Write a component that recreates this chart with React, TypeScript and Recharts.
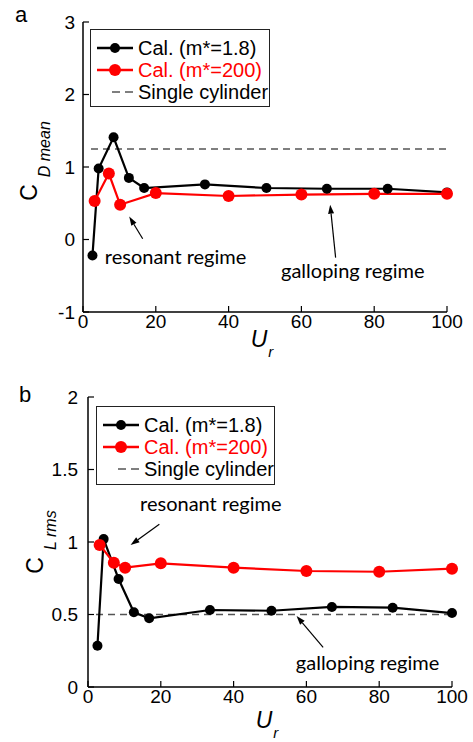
import React from 'react';
import { LineChart, Line, XAxis, YAxis, ReferenceLine, ReferenceDot, Legend } from 'recharts';

// Reduced velocity sampled for each mass ratio
const urLight = [2.6, 4.3, 8.4, 12.6, 16.8, 33.5, 50.4, 67, 83.7, 100];
const urHeavy = [3.2, 7.1, 10.2, 20, 40, 60, 80, 100];

// Mean drag coefficient
const cdLight = [-0.22, 0.98, 1.41, 0.85, 0.71, 0.76, 0.71, 0.7, 0.7, 0.65];
const cdHeavy = [0.53, 0.91, 0.48, 0.64, 0.6, 0.62, 0.63, 0.63];
const cdSingle = 1.25;

// RMS lift coefficient
const clLight = [0.285, 1.02, 0.745, 0.515, 0.474, 0.531, 0.526, 0.552, 0.547, 0.51];
const clHeavy = [0.98, 0.857, 0.823, 0.853, 0.823, 0.8, 0.795, 0.816];
const clSingle = 0.5;

// Ur range covered by the single-cylinder reference
const singleSpan = [2.2, 100];

const urTicks = [0, 20, 40, 60, 80, 100];
const cdTicks = [-1, 0, 1, 2, 3];
const clTicks = [0, 0.5, 1, 1.5, 2];

const seriesNames = ['Cal. (m*=1.8)', 'Cal. (m*=200)', 'Single cylinder'];
const seriesColors = ['#000000', '#ff0000', '#555555'];

// Annotation anchors in data units: [textX, textY, tailX, tailY, headX, headY]
const cdResonant = [6.0, -0.235, 16.4, 0.01, 12.7, 0.317];
const cdGalloping = [54.4, -0.43, 69.4, -0.25, 67.9, 0.48];
const clResonant = [14.3, 1.262, 19.6, 1.122, 11.7, 0.979];
const clGalloping = [57.1, 0.166, 64.6, 0.274, 57.3, 0.49];

const ARIAL = '"Liberation Sans", Arial, sans-serif';
const NOTE_FONT = 'Lato, "Noto Sans", sans-serif';

const toPoints = (xs: number[], ys: number[]) => xs.map((x, i) => ({ ur: x, v: ys[i] }));

const ArrowShape = (props: any) => {
  const { x1, y1, x2, y2 } = props;
  const ang = Math.atan2(y2 - y1, x2 - x1);
  const len = 9;
  const half = 3;
  const bx = x2 - len * Math.cos(ang);
  const by = y2 - len * Math.sin(ang);
  const px = -Math.sin(ang) * half;
  const py = Math.cos(ang) * half;
  return (
    <g>
      <line x1={x1} y1={y1} x2={bx} y2={by} stroke="#000" strokeWidth={1.2} />
      <polygon points={`${x2},${y2} ${bx + px},${by + py} ${bx - px},${by - py}`} fill="#000" />
    </g>
  );
};

const LegendBox = ({ width, height }: { width: number; height: number }) => (
  <div
    style={{
      width,
      height,
      boxSizing: 'border-box',
      border: '1px solid #222',
      background: '#fff',
      padding: '7px 0 0 6px',
      fontFamily: ARIAL,
      fontSize: 20,
    }}
  >
    {seriesNames.map((name, i) => (
      <div key={name} style={{ display: 'flex', alignItems: 'center', height: 22 }}>
        <svg width={36} height={22} style={{ display: 'block' }}>
          {i < 2 ? (
            <g>
              <line x1={0} y1={11} x2={36} y2={11} stroke={seriesColors[i]} strokeWidth={2.5} />
              <circle cx={18} cy={11} r={i === 0 ? 5 : 6} fill={seriesColors[i]} />
            </g>
          ) : (
            <line x1={15} y1={11} x2={36} y2={11} stroke={seriesColors[i]} strokeWidth={1.5} strokeDasharray="8 5" />
          )}
        </svg>
        <span style={{ marginLeft: 5, color: i === 1 ? '#ff0000' : '#000', whiteSpace: 'nowrap', lineHeight: '22px' }}>
          {name}
        </span>
      </div>
    ))}
  </div>
);

const YTitle = (props: any) => {
  const { viewBox, main, sub, fromAxis, shift } = props;
  const cx = viewBox.x + viewBox.width - fromAxis;
  const cy = viewBox.y + viewBox.height / 2 + shift;
  return (
    <text
      x={cx}
      y={cy}
      transform={`rotate(-90 ${cx} ${cy})`}
      textAnchor="middle"
      fontFamily={ARIAL}
      fill="#000"
    >
      <tspan fontSize={23}>{main}</tspan>
      <tspan fontSize={16} fontStyle="italic" dx={7} dy={13}>
        {sub}
      </tspan>
    </text>
  );
};

const XTitle = (props: any) => {
  const { viewBox, below } = props;
  const cx = viewBox.x + viewBox.width / 2 - 3;
  const cy = viewBox.y + below;
  return (
    <text x={cx} y={cy} textAnchor="middle" fontFamily={ARIAL} fill="#000" fontStyle="italic">
      <tspan fontSize={23}>U</tspan>
      <tspan fontSize={15} dx={1} dy={10}>
        r
      </tspan>
    </text>
  );
};

const tickStyle = { fontSize: 19, fill: '#000', fontFamily: ARIAL };
const axisStroke = { stroke: '#000', strokeWidth: 1.5 };
const tickStroke = { stroke: '#000', strokeWidth: 1.2 };

function renderNotes(spec: number[], text: string, key: string) {
  return [
    <ReferenceDot
      key={key + '-t'}
      x={spec[0]}
      y={spec[1]}
      r={0}
      fill="none"
      stroke="none"
      label={{ value: text, position: 'right', offset: 0, fontFamily: NOTE_FONT, fontSize: 20, fill: '#000' }}
    />,
    <ReferenceLine
      key={key + '-a'}
      segment={[
        { x: spec[2], y: spec[3] },
        { x: spec[4], y: spec[5] },
      ]}
      shape={ArrowShape}
    />,
  ];
}

type PanelProps = {
  height: number;
  margin: { top: number; right: number; bottom: number; left: number };
  light: number[];
  heavy: number[];
  single: number;
  yTicks: number[];
  yLabelGap: number;
  yTitleMain: string;
  yTitleSub: string;
  yTitleFromAxis: number;
  yTitleShift: number;
  xTitleBelow: number;
  legendPos: { left: number; top: number; width: number; height: number };
  notes: { spec: number[]; text: string }[];
};

function Panel(p: PanelProps) {
  const domain: [number, number] = [p.yTicks[0], p.yTicks[p.yTicks.length - 1]];
  return (
    <LineChart width={473} height={p.height} margin={p.margin}>
      <XAxis
        dataKey="ur"
        type="number"
        domain={[0, 100]}
        ticks={urTicks}
        height={40}
        tick={tickStyle}
        tickSize={-6}
        tickMargin={9}
        axisLine={axisStroke}
        tickLine={tickStroke}
        label={(lp: any) => <XTitle {...lp} below={p.xTitleBelow} />}
      />
      <XAxis
        xAxisId="top"
        orientation="top"
        type="number"
        domain={[0, 100]}
        ticks={urTicks}
        height={0}
        tick={false}
        tickSize={-6}
        axisLine={{ stroke: '#000', strokeWidth: 1 }}
        tickLine={tickStroke}
      />
      <YAxis
        type="number"
        domain={domain}
        ticks={p.yTicks}
        width={60}
        tick={tickStyle}
        tickSize={-6}
        tickMargin={p.yLabelGap}
        axisLine={axisStroke}
        tickLine={tickStroke}
        label={(lp: any) => (
          <YTitle {...lp} main={p.yTitleMain} sub={p.yTitleSub} fromAxis={p.yTitleFromAxis} shift={p.yTitleShift} />
        )}
      />
      <YAxis
        yAxisId="right"
        orientation="right"
        type="number"
        domain={domain}
        ticks={p.yTicks}
        width={0}
        tick={false}
        tickSize={-6}
        axisLine={{ stroke: '#000', strokeWidth: 1 }}
        tickLine={tickStroke}
      />
      <ReferenceLine
        segment={[
          { x: singleSpan[0], y: p.single },
          { x: singleSpan[1], y: p.single },
        ]}
        stroke={seriesColors[2]}
        strokeWidth={1.5}
        strokeDasharray="7 5"
      />
      <Line
        data={toPoints(urLight, p.light)}
        dataKey="v"
        name={seriesNames[0]}
        stroke={seriesColors[0]}
        strokeWidth={2.2}
        dot={{ r: 5, fill: seriesColors[0], stroke: seriesColors[0], strokeWidth: 0 }}
        activeDot={false}
        isAnimationActive={false}
      />
      <Line
        data={toPoints(urHeavy, p.heavy)}
        dataKey="v"
        name={seriesNames[1]}
        stroke={seriesColors[1]}
        strokeWidth={2.2}
        dot={{ r: 6, fill: seriesColors[1], stroke: seriesColors[1], strokeWidth: 0 }}
        activeDot={false}
        isAnimationActive={false}
      />
      {p.notes.map((n, i) => renderNotes(n.spec, n.text, 'n' + i))}
      <Legend
        layout="vertical"
        align="center"
        verticalAlign="middle"
        wrapperStyle={{ ...p.legendPos }}
        content={() => <LegendBox width={p.legendPos.width} height={p.legendPos.height} />}
      />
    </LineChart>
  );
}

const PanelLetter = ({ letter, x, y }: { letter: string; x: number; y: number }) => (
  <svg width={40} height={40} style={{ position: 'absolute', left: 0, top: y - 30 }}>
    <text x={x} y={30} fontFamily={ARIAL} fontSize={22} fill="#000">
      {letter}
    </text>
  </svg>
);

export default function App() {
  return (
    <div style={{ position: 'absolute', left: 0, top: 0, width: 473, height: 742, background: '#fff' }}>
      <div style={{ position: 'absolute', left: 0, top: 0 }}>
        <Panel
          height={370}
          margin={{ top: 22, right: 26, bottom: 18, left: 23 }}
          light={cdLight}
          heavy={cdHeavy}
          single={cdSingle}
          yTicks={cdTicks}
          yLabelGap={14}
          yTitleMain="C"
          yTitleSub="D mean"
          yTitleFromAxis={46}
          yTitleShift={-6}
          xTitleBelow={35}
          legendPos={{ left: 90, top: 29, width: 180, height: 78 }}
          notes={[
            { spec: cdResonant, text: 'resonant regime' },
            { spec: cdGalloping, text: 'galloping regime' },
          ]}
        />
      </div>
      <div style={{ position: 'absolute', left: 0, top: 370 }}>
        <Panel
          height={372}
          margin={{ top: 27, right: 21, bottom: 15, left: 28 }}
          light={clLight}
          heavy={clHeavy}
          single={clSingle}
          yTicks={clTicks}
          yLabelGap={16}
          yTitleMain="C"
          yTitleSub="L rms"
          yTitleFromAxis={45}
          yTitleShift={0}
          xTitleBelow={41}
          legendPos={{ left: 96, top: 36, width: 179, height: 79 }}
          notes={[
            { spec: clResonant, text: 'resonant regime' },
            { spec: clGalloping, text: 'galloping regime' },
          ]}
        />
      </div>
      <PanelLetter letter="a" x={15} y={22} />
      <PanelLetter letter="b" x={19} y={402} />
    </div>
  );
}
